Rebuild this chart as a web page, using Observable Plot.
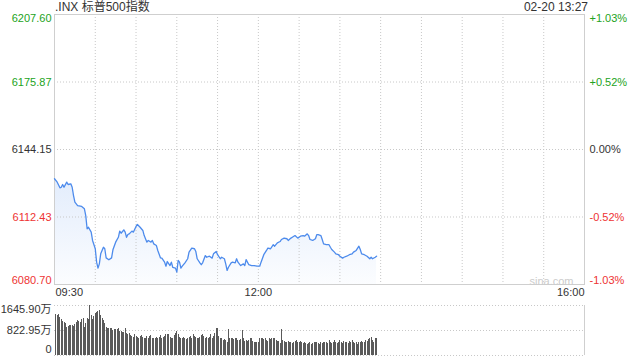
<!DOCTYPE html>
<html><head><meta charset="utf-8">
<script src="https://cdn.jsdelivr.net/npm/d3@7"></script>
<script src="https://cdn.jsdelivr.net/npm/@observablehq/plot@0.6"></script>
<style>
body{margin:0;background:#fff;font-family:"Liberation Sans",Arial,"Noto Sans CJK SC",sans-serif;}
#wrap{position:relative;width:640px;height:360px;overflow:hidden;background:#fff}
#title{position:absolute;left:55px;top:0;font-size:12px;line-height:14px;color:#333;white-space:nowrap}
#stamp{position:absolute;right:52px;top:0;font-size:12px;line-height:14px;color:#333;white-space:nowrap}
#main{position:absolute;left:0;top:0}
#vol{position:absolute;left:0;top:295px}
</style></head><body>
<div id="wrap">
  <div id="main"></div>
  <div id="vol"></div>
  <div id="title">.INX 标普500指数</div>
  <div id="stamp">02-20 13:27</div>
</div>
<script>
// ---- data ----
const times = ["09:30","09:32","09:34","09:35","09:36","09:37","09:39","09:40","09:42","09:43","09:44","09:45","09:47","09:50","09:52","09:53","09:54","09:55","09:57","09:58",
"10:00","10:01","10:02","10:03","10:04","10:06","10:07","10:08","10:10","10:12","10:13","10:15","10:17","10:18","10:19","10:21","10:22","10:23","10:24","10:25","10:27","10:28","10:30","10:31","10:33","10:35","10:36","10:38","10:39","10:41","10:42","10:43","10:45","10:46","10:48","10:49","10:51","10:52","10:53","10:55","10:56","10:57","10:59",
"11:00","11:01","11:02","11:03","11:04","11:06","11:08","11:09","11:11","11:13","11:14","11:15","11:17","11:18","11:19","11:21","11:22","11:24","11:26","11:27","11:29","11:30","11:32","11:33","11:35","11:36","11:37","11:38","11:40","11:41","11:43","11:44","11:45","11:47","11:49","11:50","11:51","11:53","11:55","11:57","11:59",
"12:01","12:02","12:04","12:06","12:07","12:09","12:11","12:12","12:14","12:16","12:17","12:19","12:21","12:22","12:24","12:25","12:27","12:29","12:30","12:31","12:33","12:34","12:36","12:37","12:38","12:40","12:42","12:43","12:44","12:46","12:47","12:48","12:50","12:52","12:53","12:54","12:56","12:57","12:59",
"13:00","13:02","13:03","13:05","13:07","13:09","13:10","13:12","13:14","13:15","13:16","13:18","13:20","13:22","13:23","13:24","13:26","13:27"];
const prices = [6130.4,6128.8,6126.15,6126.4,6127.7,6126.4,6128.8,6127.7,6128.0,6126.4,6122.5,6119.4,6117.8,6117.4,6116.3,6113.1,6106.9,6107.6,6105.3,6101.4,
6097.5,6091.2,6088.4,6090.4,6095.1,6098.2,6097.5,6093.2,6092.3,6093.2,6097.0,6100.6,6102.9,6105.8,6104.8,6106.4,6105.3,6102.9,6104.2,6104.5,6105.8,6105.3,6108.0,6108.9,6107.6,6106.1,6103.7,6100.6,6101.4,6100.6,6101.4,6099.8,6099.0,6096.7,6093.2,6093.1,6091.2,6089.3,6091.5,6089.6,6091.2,6088.8,6088.4,
6086.5,6092.0,6091.2,6088.4,6089.3,6090.9,6092.8,6095.9,6097.8,6097.5,6096.2,6092.8,6090.9,6090.0,6090.9,6094.3,6093.5,6094.0,6093.1,6095.1,6096.2,6094.7,6092.8,6093.5,6092.8,6090.4,6087.3,6088.8,6090.9,6091.2,6090.9,6092.8,6091.2,6089.6,6090.4,6089.6,6092.4,6090.0,6089.6,6089.6,6089.3,
6089.3,6091.2,6094.7,6096.7,6097.8,6097.5,6099.4,6098.7,6100.3,6100.9,6101.85,6102.5,6102.2,6101.4,6102.5,6102.9,6103.7,6102.5,6102.9,6103.4,6103.7,6103.4,6104.5,6103.7,6101.85,6101.4,6102.2,6104.1,6104.1,6103.7,6101.85,6099.8,6099.4,6099.4,6098.2,6097.15,6095.9,6095.1,6094.7,
6094.0,6093.1,6093.5,6094.0,6094.7,6095.1,6095.9,6096.7,6098.7,6097.15,6095.1,6094.7,6094.0,6092.8,6093.5,6092.8,6093.5,6094.0];
// per-minute volume from 09:30, unit 万
const volumes = [1350,1330,1340,1262,1200,1119,1097,1050,933,960,
988,988,975,965,1010,1070,1152,1120,1097,1185,
1207,933,1050,1207,1200,1640,1317,1185,1295,1370,
1427,1448,1481,1317,1230,1152,1042,933,878,878,
900,878,835,845,856,856,878,790,780,768,
746,878,713,680,713,658,625,604,680,636,
604,571,636,658,604,571,549,636,571,615,
658,549,549,571,604,549,604,658,571,604,
636,680,680,680,604,571,549,658,724,790,
680,604,571,549,604,571,527,571,604,636,
549,680,636,604,549,571,593,658,680,636,
571,604,549,604,680,571,636,713,878,900,
620,571,549,494,527,510,439,856,571,549,
571,527,560,571,494,494,527,830,571,461,
494,461,494,549,549,461,439,417,439,439,
549,571,571,527,571,500,461,549,527,571,
571,549,494,461,461,384,856,494,461,439,
417,461,439,439,384,439,461,494,439,417,
461,439,384,439,384,351,384,439,351,384,
439,417,439,384,351,417,384,439,417,439,
384,494,439,384,417,494,439,384,417,494,
439,384,461,417,439,384,461,439,494,439,
384,417,351,417,439,461,439,439,494,461,
527,571,604,494,439,571,549];
const prevClose = 6144.15;
const yTicks = [6207.60, 6175.87, 6144.15, 6112.43, 6080.70];
const pctLabels = ["+1.03%","+0.52%","0.00%","-0.52%","-1.03%"];
const xLabels = ["09:30","12:00","16:00"];
const sessionStart = "09:30", sessionEnd = "16:00";
const volTicks = [1645.90, 822.95, 0];
const volLabels = ["1645.90万","822.95万","0"];

// ---- helpers ----
const toMin = s => { const [h,m] = s.split(":").map(Number); return h*60+m; };
const t0 = toMin(sessionStart), tEnd = toMin(sessionEnd) - t0;
const xDomain = [0, tEnd];
const data = times.map((t,i)=>({m: toMin(t)-t0, p: prices[i]}));
const volData = volumes.map((v,i)=>({m: i+1, v}));
const GREEN = "#22a322", RED = "#ee3333", DARK = "#333333", GRID = "#c8c8c8", BORDER = "#cfcfcf";
const col = v => v > prevClose ? GREEN : (v < prevClose ? RED : DARK);
const yData = yTicks.map((v,i)=>({v, label: v.toFixed(2), pct: pctLabels[i], c: col(v)}));
const gridMinutes = d3.range(30, tEnd, 30);
const xLab = xLabels.map(s => ({m: toMin(s)-t0, s}));
const font = '"Liberation Sans", Arial, "Noto Sans CJK SC", sans-serif';

const yLo = yTicks[yTicks.length-1], yHi = yTicks[0];
function labelMarks(d, anchor, dy){
  return [
    Plot.text(d, {y:"v", text:"label", fill:"c", frameAnchor:"left", textAnchor:"end", dx:-3, dy, lineAnchor:anchor}),
    Plot.text(d, {y:"v", text:"pct", fill:"c", frameAnchor:"right", textAnchor:"start", dx:5, dy, lineAnchor:anchor})
  ];
}
const main = Plot.plot({
  width:640, height:300, marginTop:14, marginBottom:16, marginLeft:54, marginRight:56,
  x:{domain:xDomain, axis:null},
  y:{domain:[yLo, yHi], axis:null},
  color:{type:"identity"},
  style:{fontFamily:font, fontSize:"11px", background:"transparent", overflow:"visible"},
  marks:[
    Plot.areaY(data, {x:"m", y1:yLo, y2:"p", fill:"url(#areaGrad)"}),
    Plot.ruleY(yData.slice(1, yData.length-1), {y:"v", stroke:GRID, strokeDasharray:"1,2"}),
    Plot.ruleX(gridMinutes, {stroke:GRID, strokeDasharray:"1,2"}),
    Plot.frame({stroke:BORDER}),
    Plot.line(data, {x:"m", y:"p", stroke:"#4d8bec", strokeWidth:1.3}),
    ...labelMarks([yData[0]], "top", 0),
    ...labelMarks(yData.slice(1, yData.length-1), "middle", 0),
    ...labelMarks([yData[yData.length-1]], "bottom", -1),
    Plot.text([xLab[0]], {x:"m", text:"s", frameAnchor:"bottom", textAnchor:"start", lineAnchor:"top", dy:4, dx:1, fill:DARK}),
    Plot.text([xLab[1]], {x:"m", text:"s", frameAnchor:"bottom", textAnchor:"middle", lineAnchor:"top", dy:4, fill:DARK}),
    Plot.text([xLab[2]], {x:"m", text:"s", frameAnchor:"bottom", textAnchor:"end", lineAnchor:"top", dy:4, fill:DARK}),
    Plot.text(["sina.com"], {text:d=>d, frameAnchor:"bottom-right", textAnchor:"end", lineAnchor:"bottom", dx:-11, dy:0, fill:"#cccccc", fontSize:11})
  ]
});
const defs = d3.select(main).insert("defs", ":first-child");
const g = defs.append("linearGradient").attr("id","areaGrad").attr("x1",0).attr("y1",0).attr("x2",0).attr("y2",1);
g.append("stop").attr("offset","0%").attr("stop-color","#4d8bec").attr("stop-opacity",0.16);
g.append("stop").attr("offset","100%").attr("stop-color","#4d8bec").attr("stop-opacity",0.02);
document.getElementById("main").appendChild(main);

const vData = volTicks.map((v,i)=>({v, label: volLabels[i]}));
const vol = Plot.plot({
  width:640, height:65, marginTop:10, marginBottom:5, marginLeft:54, marginRight:56,
  x:{domain:xDomain, axis:null},
  y:{domain:[0, volTicks[0]], axis:null},
  style:{fontFamily:font, fontSize:"11px", background:"transparent", overflow:"visible"},
  marks:[
    Plot.ruleY(vData, {y:"v", stroke:GRID, strokeDasharray:"1,2"}),
    Plot.ruleX([xDomain[1]], {stroke:BORDER}),
    Plot.ruleX(volData, {x:"m", y1:0, y2:"v", stroke:"#5a5a5a", shapeRendering:"crispEdges"}),
    Plot.text([vData[0]], {y:"v", text:"label", frameAnchor:"left", textAnchor:"end", dx:-3, lineAnchor:"top", fill:DARK}),
    Plot.text([vData[1]], {y:"v", text:"label", frameAnchor:"left", textAnchor:"end", dx:-3, lineAnchor:"middle", fill:DARK}),
    Plot.text([vData[2]], {y:"v", text:"label", frameAnchor:"left", textAnchor:"end", dx:-3, dy:-3, lineAnchor:"bottom", fill:DARK})
  ]
});
document.getElementById("vol").appendChild(vol);
</script>
</body></html>
